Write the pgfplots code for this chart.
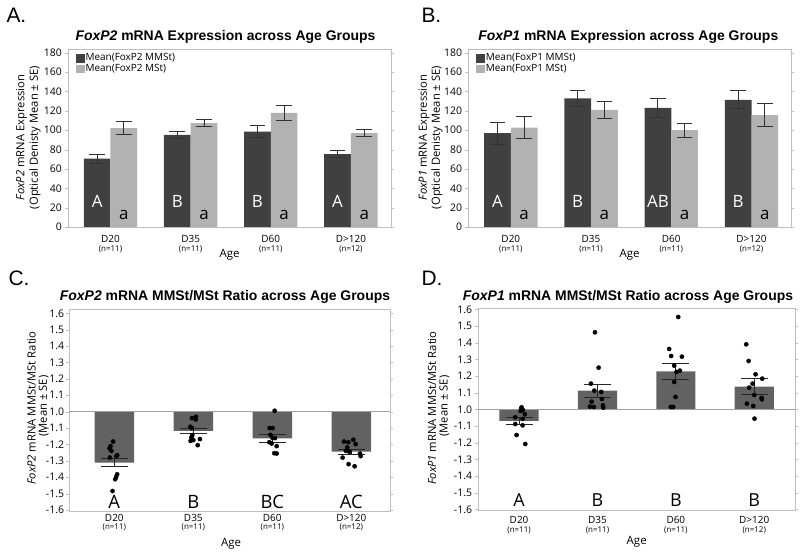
\documentclass[border=0pt]{standalone}
\usepackage{fontspec}
\setmainfont{Liberation Sans}
\newfontfamily\os{Open Sans}
\usepackage{pgfplots}
\pgfplotsset{compat=1.18}
\usepackage{pgfplotstable}

\definecolor{darkbar}{RGB}{64,64,64}
\definecolor{lightbar}{RGB}{178,178,178}
\definecolor{midbar}{RGB}{98,98,98}
\definecolor{framec}{RGB}{190,190,190}
\definecolor{errc}{RGB}{50,50,50}
\definecolor{refl}{RGB}{160,160,160}

% Panel A: FoxP2 expression (x positions of the two bars, means, SE)
\pgfplotstableread{
xa xb mm emm ms ems
-0.1665 0.1665 70.6 4.5 102.2 6.6
0.8335 1.1665 95.2 3.8 107.3 3.6
1.8335 2.1665 98.7 6.6 118.0 7.4
2.8335 3.1665 75.4 3.3 97.0 3.8
}\tableA
% Panel B: FoxP1 expression
\pgfplotstableread{
xa xb mm emm ms ems
-0.1665 0.1665 97.0 11.5 102.8 11.4
0.8335 1.1665 133.0 8.0 121.0 8.5
1.8335 2.1665 123.1 10.2 100.1 7.3
2.8335 3.1665 131.5 9.3 115.6 12.1
}\tableB
% Panel C: FoxP2 ratio (u = ratio-1 above, -(|ratio|-1) below)
\pgfplotstableread{
x m e
0 -0.310 0.027
1 -0.117 0.017
2 -0.163 0.022
3 -0.244 0.015
}\tableC
\pgfplotstableread{
x y
-0.015 -0.182
-0.049 -0.210
-0.061 -0.224
-0.036 -0.239
0.036 -0.265
0.027 -0.271
-0.057 -0.280
0.036 -0.382
0.023 -0.398
0.011 -0.412
-0.023 -0.484
0.983 -0.039
1.034 -0.031
1.030 -0.047
0.962 -0.092
0.983 -0.100
0.987 -0.143
0.975 -0.157
1.000 -0.173
1.084 -0.167
1.055 -0.204
0.966 -0.178
2.030 0.006
1.966 -0.100
2.004 -0.100
1.975 -0.141
2.004 -0.161
2.034 -0.161
1.962 -0.186
1.992 -0.194
2.055 -0.210
2.025 -0.253
2.055 -0.255
2.907 -0.182
2.962 -0.186
3.025 -0.171
3.055 -0.198
2.949 -0.218
2.932 -0.239
2.975 -0.245
2.890 -0.280
3.110 -0.255
3.118 -0.271
2.966 -0.320
3.042 -0.333
}\ptsC
% Panel D: FoxP1 ratio
\pgfplotstableread{
x m e
0 -0.070 0.020
1 0.112 0.040
2 0.228 0.048
3 0.136 0.048
}\tableD
\pgfplotstableread{
x y
0.032 0.012
0.028 0.004
0.049 -0.004
0.019 -0.010
0.074 -0.030
-0.049 -0.048
0.045 -0.058
-0.049 -0.088
0.045 -0.096
-0.032 -0.154
0.079 -0.208
0.968 0.462
1.015 0.250
0.917 0.154
0.960 0.112
1.049 0.104
1.057 0.062
0.926 0.046
0.904 0.016
0.955 0.014
1.070 0.024
1.074 0.010
2.030 0.554
1.915 0.362
1.940 0.320
2.077 0.316
1.979 0.262
2.051 0.232
2.009 0.224
1.979 0.164
1.996 0.074
1.936 0.014
1.966 0.014
2.898 0.390
2.928 0.290
3.017 0.210
3.102 0.184
2.979 0.154
2.936 0.130
3.000 0.086
3.098 0.060
2.906 0.034
2.987 0.020
3.094 0.068
3.004 -0.056
}\ptsD

\pgfplotsset{
  panel/.style={
    scale only axis,
    axis line style={framec},
    xtick={0,1,2,3},
    xtick style={draw=none},
    ytick style={framec},
    major tick length=3bp,
    tick align=outside,
    axis x line*=box, axis y line*=box,
    yticklabel style={font=\os\fontsize{10.5}{12}\selectfont, inner sep=0pt, xshift=-3bp},
    xticklabel style={font=\os\fontsize{10}{8.5}\selectfont, align=center, inner sep=0pt, anchor=north},
    /pgf/number format/assume math mode=true,
    clip=false,
  },
  barAB/.style={ybar, bar width=0.333, bar shift=0pt, draw=none, forget plot,
    error bars/.cd, y dir=both, y explicit,
    error bar style={errc, line width=0.9bp},
    error mark options={rotate=90, mark size=7.8bp, line width=0.9bp, errc}},
  barCD/.style={ybar, bar width=0.5, bar shift=0pt, draw=none, fill=midbar,
    error bars/.cd, y dir=both, y explicit,
    error bar style={black!85, line width=0.9bp},
    error mark options={rotate=90, mark size=13.5bp, line width=0.9bp, black!85}},
  legAB/.style={
    legend style={draw=none, fill=none, at={(axis description cs:0,1)}, anchor=north west,
      xshift=5bp, yshift=-1.5bp,
      font=\os\fontsize{10}{12}\selectfont, row sep=0bp,
      nodes={inner sep=1bp}},
    legend cell align=left},
}
\newcommand{\nlab}[2]{#1\\{\fontsize{8}{8.5}\selectfont(n=#2)}}

\begin{document}
\begin{tikzpicture}
\useasboundingbox (0,0) rectangle (800bp,554bp);

% ---------- Panel A ----------
\node[anchor=base west, font=\fontsize{21}{21}\selectfont] at (3bp,531.3bp) {A.};
\node[font=\bfseries\fontsize{14}{16}\selectfont] at (225.5bp,517.3bp) {\textit{FoxP2} mRNA Expression across Age Groups};
\node[rotate=90, font=\os\fontsize{11.3}{13}\selectfont] at (21.7bp,416.5bp) {\textit{FoxP2} mRNA Expression};
\node[rotate=90, font=\os\fontsize{11.3}{13}\selectfont] at (35bp,416.5bp) {(Optical Denisty Mean ± SE)};
\node[font=\os\fontsize{11.5}{13}\selectfont] at (229.5bp,299bp) {Age};
\begin{axis}[panel, legAB, at={(68bp,327bp)}, anchor=south west, width=323bp, height=178bp,
  xmin=-0.53, xmax=3.50, ymin=0, ymax=184, ytick={0,20,...,180},
  xticklabels={\nlab{D20}{11},\nlab{D35}{11},\nlab{D60}{11},\nlab{D>120}{12}},
  xticklabel style={yshift=-5.2bp}]
\addlegendimage{legend image code/.code={\fill[darkbar] (0bp,-3.7bp) rectangle (8bp,3.7bp);}}
\addlegendentry{Mean(FoxP2 MMSt)}
\addlegendimage{legend image code/.code={\fill[lightbar] (0bp,-3.7bp) rectangle (8bp,3.7bp);}}
\addlegendentry{Mean(FoxP2 MSt)}
\addplot[fill=darkbar, barAB] table[x=xa, y=mm, y error=emm] {\tableA};
\addplot[fill=lightbar, barAB] table[x=xb, y=ms, y error=ems] {\tableA};
\begin{scope}[every node/.style={font=\os\fontsize{17}{17}\selectfont}]
\node[text=white] at (axis cs:-0.1665,26.7) {A};
\node[text=white] at (axis cs:0.8335,26.7) {B};
\node[text=white] at (axis cs:1.8335,26.7) {B};
\node[text=white] at (axis cs:2.8335,26.7) {A};
\node[text=black] at (axis cs:0.1665,12.2) {a};
\node[text=black] at (axis cs:1.1665,12.2) {a};
\node[text=black] at (axis cs:2.1665,12.2) {a};
\node[text=black] at (axis cs:3.1665,12.2) {a};
\end{scope}
\end{axis}

% ---------- Panel B ----------
\node[anchor=base west, font=\fontsize{21}{21}\selectfont] at (418bp,531.3bp) {B.};
\node[font=\bfseries\fontsize{14}{16}\selectfont] at (628.3bp,517.3bp) {\textit{FoxP1} mRNA Expression across Age Groups};
\node[rotate=90, font=\os\fontsize{11.3}{13}\selectfont] at (424bp,416.5bp) {\textit{FoxP1} mRNA Expression};
\node[rotate=90, font=\os\fontsize{11.3}{13}\selectfont] at (437bp,416.5bp) {(Optical Denisty Mean ± SE)};
\node[font=\os\fontsize{11.5}{13}\selectfont] at (629.5bp,299bp) {Age};
\begin{axis}[panel, legAB, at={(468.3bp,327bp)}, anchor=south west, width=322.5bp, height=178bp,
  xmin=-0.53, xmax=3.49, ymin=0, ymax=184, ytick={0,20,...,180},
  xticklabels={\nlab{D20}{11},\nlab{D35}{11},\nlab{D60}{11},\nlab{D>120}{12}},
  xticklabel style={yshift=-5.2bp}]
\addlegendimage{legend image code/.code={\fill[darkbar] (0bp,-3.7bp) rectangle (8bp,3.7bp);}}
\addlegendentry{Mean(FoxP1 MMSt)}
\addlegendimage{legend image code/.code={\fill[lightbar] (0bp,-3.7bp) rectangle (8bp,3.7bp);}}
\addlegendentry{Mean(FoxP1 MSt)}
\addplot[fill=darkbar, barAB] table[x=xa, y=mm, y error=emm] {\tableB};
\addplot[fill=lightbar, barAB] table[x=xb, y=ms, y error=ems] {\tableB};
\begin{scope}[every node/.style={font=\os\fontsize{17}{17}\selectfont}]
\node[text=white] at (axis cs:-0.1665,26.7) {A};
\node[text=white] at (axis cs:0.8335,26.7) {B};
\node[text=white] at (axis cs:1.8335,26.7) {AB};
\node[text=white] at (axis cs:2.8335,26.7) {B};
\node[text=black] at (axis cs:0.1665,12.2) {a};
\node[text=black] at (axis cs:1.1665,12.2) {a};
\node[text=black] at (axis cs:2.1665,12.2) {a};
\node[text=black] at (axis cs:3.1665,12.2) {a};
\end{scope}
\end{axis}

% ---------- Panel C ----------
\node[anchor=base west, font=\fontsize{21}{21}\selectfont] at (5bp,268bp) {C.};
\node[font=\bfseries\fontsize{14}{16}\selectfont] at (225bp,257.3bp) {\textit{FoxP2} mRNA MMSt/MSt Ratio across Age Groups};
\node[rotate=90, font=\os\fontsize{11.3}{13}\selectfont] at (31.5bp,146bp) {\textit{FoxP2} mRNA MMSt/MSt Ratio};
\node[rotate=90, font=\os\fontsize{11.3}{13}\selectfont] at (43.8bp,148bp) {(Mean ± SE)};
\node[font=\os\fontsize{11.5}{13}\selectfont] at (231bp,10.7bp) {Age};
\begin{axis}[panel, at={(69.3bp,43.3bp)}, anchor=south west, width=320.7bp, height=201.4bp,
  xmin=-0.57, xmax=3.49, ymin=-0.604, ymax=0.625,
  ytick={-0.6,-0.5,-0.4,-0.3,-0.2,-0.1,0,0.1,0.2,0.3,0.4,0.5,0.6},
  yticklabels={-1.6,-1.5,-1.4,-1.3,-1.2,-1.1,1.0,1.1,1.2,1.3,1.4,1.5,1.6},
  yticklabel style={xshift=1bp},
  xticklabels={\nlab{D20}{11},\nlab{D35}{11},\nlab{D60}{11},\nlab{D>120}{12}},
  xticklabel style={yshift=0bp}]
\addplot[barCD] table[x=x, y=m, y error=e] {\tableC};
\draw[refl, line width=0.9bp] (axis cs:-0.57,0) -- (axis cs:3.49,0);
\addplot[only marks, mark=*, mark size=2.1bp, black] table[x=x, y=y] {\ptsC};
\begin{scope}[every node/.style={font=\os\fontsize{18.5}{18}\selectfont}]
\node at (axis cs:0,-0.549) {A};
\node at (axis cs:1,-0.549) {B};
\node at (axis cs:2,-0.549) {BC};
\node at (axis cs:3,-0.549) {AC};
\end{scope}
\end{axis}

% ---------- Panel D ----------
\node[anchor=base west, font=\fontsize{21}{21}\selectfont] at (418bp,268bp) {D.};
\node[font=\bfseries\fontsize{14}{16}\selectfont] at (628bp,257.3bp) {\textit{FoxP1} mRNA MMSt/MSt Ratio across Age Groups};
\node[rotate=90, font=\os\fontsize{11.3}{13}\selectfont] at (432bp,146bp) {\textit{FoxP1} mRNA MMSt/MSt Ratio};
\node[rotate=90, font=\os\fontsize{11.3}{13}\selectfont] at (444.5bp,148bp) {(Mean ± SE)};
\node[font=\os\fontsize{11.5}{13}\selectfont] at (636.7bp,12.3bp) {Age};
\begin{axis}[panel, at={(478.3bp,44bp)}, anchor=south west, width=316.7bp, height=201.7bp,
  xmin=-0.52, xmax=3.52, ymin=-0.604, ymax=0.606,
  ytick={-0.6,-0.5,-0.4,-0.3,-0.2,-0.1,0,0.1,0.2,0.3,0.4,0.5,0.6},
  yticklabels={-1.6,-1.5,-1.4,-1.3,-1.2,-1.1,1.0,1.1,1.2,1.3,1.4,1.5,1.6},
  xticklabels={\nlab{D20}{11},\nlab{D35}{11},\nlab{D60}{11},\nlab{D>120}{12}},
  xticklabel style={yshift=-3.5bp}]
\addplot[barCD] table[x=x, y=m, y error=e] {\tableD};
\draw[refl, line width=0.9bp] (axis cs:-0.52,0) -- (axis cs:3.52,0);
\addplot[only marks, mark=*, mark size=2.1bp, black] table[x=x, y=y] {\ptsD};
\begin{scope}[every node/.style={font=\os\fontsize{18}{18}\selectfont}]
\node at (axis cs:0,-0.544) {A};
\node at (axis cs:1,-0.544) {B};
\node at (axis cs:2,-0.544) {B};
\node at (axis cs:3,-0.544) {B};
\end{scope}
\end{axis}
\end{tikzpicture}
\end{document}
